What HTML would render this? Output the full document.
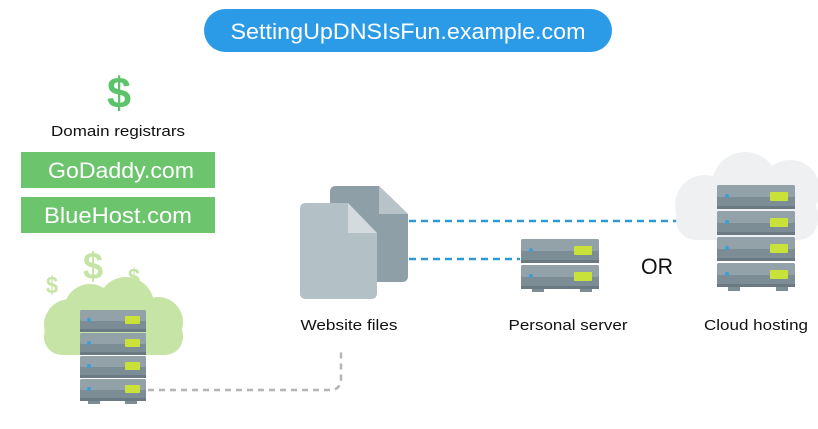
<!DOCTYPE html>
<html><head><meta charset="utf-8"><style>
html,body{margin:0;padding:0;background:#fff;width:818px;height:429px;overflow:hidden}
svg{display:block}
text{font-family:"Liberation Sans",sans-serif}
</style></head><body>
<svg width="818" height="429" viewBox="0 0 818 429">
<defs>
<g id="u">
  <rect x="0" y="0" width="66" height="22" rx="2" fill="#7d8d95"/>
  <rect x="0" y="0" width="66" height="11" rx="2" fill="#93a2a9"/>
  <rect x="0" y="19" width="66" height="3" fill="#6b7a82"/>
  <circle cx="9" cy="10" r="2" fill="#3a9fd6"/>
  <rect x="45" y="6" width="15" height="8" rx="1" fill="#c9e23a"/>
</g>
<g id="u2">
  <rect x="0" y="0" width="78" height="24" rx="2" fill="#7d8d95"/>
  <rect x="0" y="0" width="78" height="12" rx="2" fill="#93a2a9"/>
  <rect x="0" y="21" width="78" height="3" fill="#6b7a82"/>
  <circle cx="10" cy="11" r="2" fill="#3a9fd6"/>
  <rect x="53" y="7" width="18" height="9" rx="1" fill="#c9e23a"/>
</g>
</defs>

<!-- title -->
<rect x="204" y="9" width="408" height="43" rx="21.5" fill="#2b9be8"/>
<text x="408" y="39" text-anchor="middle" font-size="22" fill="#fff" textLength="355" lengthAdjust="spacingAndGlyphs">SettingUpDNSIsFun.example.com</text>

<!-- registrars -->
<text x="119" y="108" text-anchor="middle" font-size="44" font-weight="bold" fill="#5cc36a" textLength="24" lengthAdjust="spacingAndGlyphs">$</text>
<text x="118" y="136" text-anchor="middle" font-size="15" fill="#111" textLength="134" lengthAdjust="spacingAndGlyphs">Domain registrars</text>
<rect x="21" y="152" width="194" height="36" fill="#6cc56d"/>
<text x="121" y="178" text-anchor="middle" font-size="22" fill="#fff" textLength="146" lengthAdjust="spacingAndGlyphs">GoDaddy.com</text>
<rect x="21" y="197" width="194" height="36" fill="#6cc56d"/>
<text x="118" y="223" text-anchor="middle" font-size="22" fill="#fff" textLength="148" lengthAdjust="spacingAndGlyphs">BlueHost.com</text>

<!-- left cloud -->
<g fill="#c6e4a6">
  <circle cx="70" cy="325" r="26"/>
  <circle cx="90" cy="310" r="26"/>
  <circle cx="126" cy="305" r="28"/>
  <circle cx="158" cy="322" r="25"/>
  <rect x="44" y="318" width="139" height="37" rx="18"/>
</g>
<text x="52" y="293" text-anchor="middle" font-size="24" font-weight="bold" fill="#c6e4a6" textLength="12" lengthAdjust="spacingAndGlyphs">$</text>
<text x="93" y="279" text-anchor="middle" font-size="38" font-weight="bold" fill="#c6e4a6" textLength="20" lengthAdjust="spacingAndGlyphs">$</text>
<text x="134" y="285" text-anchor="middle" font-size="24" font-weight="bold" fill="#c6e4a6" textLength="12" lengthAdjust="spacingAndGlyphs">$</text>
<!-- left server -->
<use href="#u" x="80" y="310"/>
<use href="#u" x="80" y="333"/>
<use href="#u" x="80" y="356"/>
<use href="#u" x="80" y="379"/>
<rect x="88" y="401" width="12" height="3" fill="#7d8d95"/>
<rect x="125" y="401" width="12" height="3" fill="#7d8d95"/>
<path d="M148 390 H330 Q341 390 341 378 V348" fill="none" stroke="#b5b5b5" stroke-width="2.5" stroke-dasharray="6 5"/>

<!-- files -->
<path d="M336 186 H379 L408 214 V276 Q408 282 402 282 H336 Q330 282 330 276 V192 Q330 186 336 186Z" fill="#8f9fa7"/>
<path d="M379 186 L408 214 H379Z" fill="#b7c3c8"/>
<path d="M306 203 H348 L377 233 V293 Q377 299 371 299 H306 Q300 299 300 293 V209 Q300 203 306 203Z" fill="#b3c0c6"/>
<path d="M348 203 L377 233 H348Z" fill="#d3dbde"/>
<text x="349" y="330" text-anchor="middle" font-size="15" fill="#111" textLength="97" lengthAdjust="spacingAndGlyphs">Website files</text>

<!-- blue dashes -->
<line x1="409" y1="221" x2="680" y2="221" stroke="#2f9ad8" stroke-width="2.5" stroke-dasharray="7 5"/>
<line x1="409" y1="259" x2="520" y2="259" stroke="#2f9ad8" stroke-width="2.5" stroke-dasharray="7 5"/>

<!-- personal server -->
<use href="#u2" x="521" y="239"/>
<use href="#u2" x="521" y="265"/>
<rect x="532" y="289" width="12" height="3" fill="#7d8d95"/>
<rect x="580" y="289" width="12" height="3" fill="#7d8d95"/>
<text x="568" y="330" text-anchor="middle" font-size="15" fill="#111" textLength="119" lengthAdjust="spacingAndGlyphs">Personal server</text>

<text x="657" y="274" text-anchor="middle" font-size="22" fill="#111" textLength="32" lengthAdjust="spacingAndGlyphs">OR</text>

<!-- cloud hosting -->
<g fill="#eef0f1">
  <circle cx="705" cy="205" r="30"/>
  <circle cx="745" cy="185" r="33"/>
  <circle cx="790" cy="190" r="30"/>
  <rect x="676" y="195" width="142" height="45" rx="20"/>
</g>
<use href="#u2" x="717" y="185"/>
<use href="#u2" x="717" y="211"/>
<use href="#u2" x="717" y="237"/>
<use href="#u2" x="717" y="263"/>
<rect x="728" y="287" width="12" height="4" fill="#7d8d95"/>
<rect x="776" y="287" width="12" height="4" fill="#7d8d95"/>
<text x="756" y="330" text-anchor="middle" font-size="15" fill="#111" textLength="104" lengthAdjust="spacingAndGlyphs">Cloud hosting</text>
</svg>
</body></html>
